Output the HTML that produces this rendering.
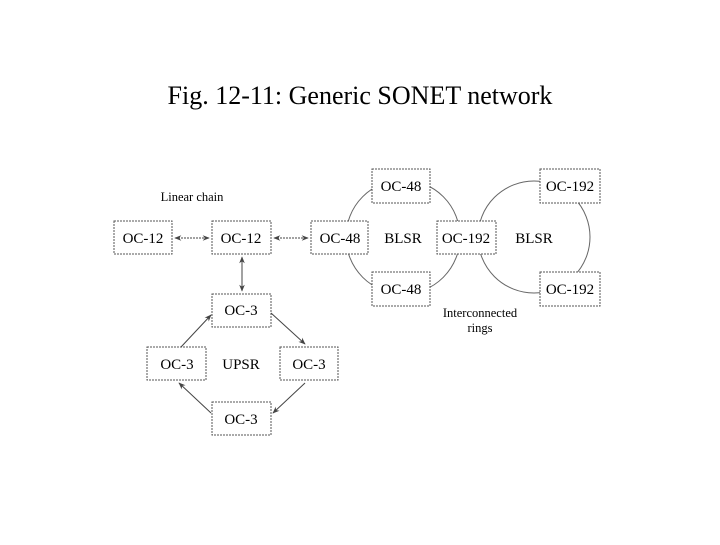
<!DOCTYPE html>
<html><head><style>
body{margin:0;background:#fff;width:720px;height:540px;overflow:hidden}
</style></head><body>
<svg width="720" height="540" xmlns="http://www.w3.org/2000/svg" font-family="Liberation Serif, serif">
<defs>
<marker id="a" viewBox="0 0 10 10" refX="9" refY="5" markerWidth="7" markerHeight="7" orient="auto-start-reverse"><path d="M0,1 L10,5 L0,9 L3,5 z" fill="#444"/></marker>
</defs>
<text x="360" y="104" text-anchor="middle" font-size="26">Fig. 12-11: Generic SONET network</text>
<g fill="none" stroke="#666" stroke-width="1">
<circle cx="403" cy="237" r="57"/>
<circle cx="534" cy="237" r="56"/>
</g>
<g fill="#fff" stroke="#555" stroke-width="1" stroke-dasharray="2,1">
<rect x="114" y="221" width="58" height="33"/>
<rect x="212" y="221" width="59" height="33"/>
<rect x="311" y="221" width="57" height="33"/>
<rect x="372" y="169" width="58" height="34"/>
<rect x="372" y="272" width="58" height="34"/>
<rect x="437" y="221" width="59" height="33"/>
<rect x="540" y="169" width="60" height="34"/>
<rect x="540" y="272" width="60" height="34"/>
<rect x="212" y="294" width="59" height="33"/>
<rect x="147" y="347" width="59" height="33"/>
<rect x="280" y="347" width="58" height="33"/>
<rect x="212" y="402" width="59" height="33"/>
</g>
<g stroke="#444" stroke-width="1" fill="none">
<line x1="175" y1="238" x2="209" y2="238" stroke-dasharray="2,1" marker-start="url(#a)" marker-end="url(#a)"/>
<line x1="274" y1="238" x2="308" y2="238" stroke-dasharray="2,1" marker-start="url(#a)" marker-end="url(#a)"/>
<line x1="242" y1="257" x2="242" y2="291" marker-start="url(#a)" marker-end="url(#a)"/>
<line x1="271" y1="313" x2="305" y2="344" marker-end="url(#a)"/>
<line x1="305" y1="383" x2="273" y2="413" marker-end="url(#a)"/>
<line x1="211" y1="413" x2="179" y2="383" marker-end="url(#a)"/>
<line x1="181" y1="347" x2="211" y2="315" marker-end="url(#a)"/>
</g>
<g font-size="15" text-anchor="middle" fill="#000">
<text x="143" y="243">OC-12</text>
<text x="241" y="243">OC-12</text>
<text x="340" y="243">OC-48</text>
<text x="401" y="191">OC-48</text>
<text x="401" y="294">OC-48</text>
<text x="466" y="243">OC-192</text>
<text x="570" y="191">OC-192</text>
<text x="570" y="294">OC-192</text>
<text x="241" y="315">OC-3</text>
<text x="177" y="369">OC-3</text>
<text x="309" y="369">OC-3</text>
<text x="241" y="424">OC-3</text>
<text x="403" y="243">BLSR</text>
<text x="534" y="243">BLSR</text>
<text x="241" y="369">UPSR</text>
</g>
<g font-size="12.5" text-anchor="middle" fill="#000">
<text x="192" y="201">Linear chain</text>
<text x="480" y="317">Interconnected</text>
<text x="480" y="332">rings</text>
</g>
</svg>
</body></html>
